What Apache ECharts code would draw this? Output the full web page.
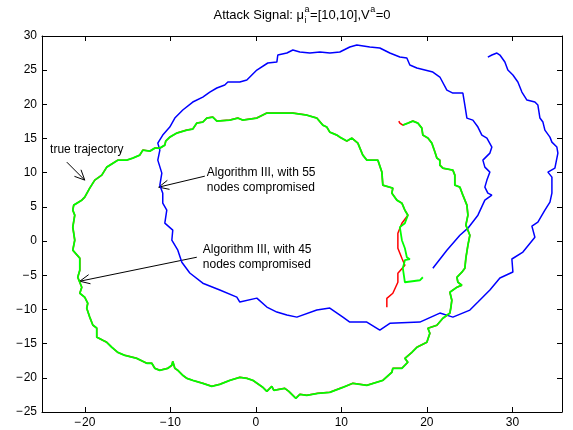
<!DOCTYPE html>
<html><head><meta charset="utf-8">
<script src="https://cdn.jsdelivr.net/npm/echarts@6/dist/echarts.min.js"></script>
<style>html,body{margin:0;padding:0;background:#fff}#c{width:573px;height:430px}</style>
</head><body><div id="c"></div>
<script>
// ---- axis settings ----
const xRange = [-25, 35.8];
const yRange = [-25, 30];
const xTickValues = [-20, -10, 0, 10, 20, 30];
const yTickInterval = 5;

// ---- data (x, y) ----
// true trajectory: inner starting piece (differs from estimate)
const trueStart = [[15.32,-9.68],[15.32,-8.37],[16.02,-7.63],[16.61,-6.02],[16.61,-4.70],[17.43,-3.53],[17.08,-2.50],[16.61,-1.04],[16.61,1.16],[17.08,2.62]];
// Algorithm III, 45 nodes compromised: inner starting piece
const alg45Start = [[19.53,-5.29],[19.18,-5.73],[17.43,-6.02],[17.19,-3.97],[17.43,-2.80],[18.01,-2.65],[17.66,-2.36],[17.43,-1.04],[17.08,0.13],[16.84,2.04],[17.43,2.62]];
// loop that the true trajectory and the 45-node estimate share
const sharedLoop = [[17.78,3.79],[17.43,4.52],[17.08,5.55],[16.49,5.99],[15.91,7.01],[16.02,7.75],[14.85,8.18],[14.74,10.09],[14.27,11.84],[12.98,11.84],[12.51,12.58],[11.93,14.33],[11.23,15.07],[10.64,14.63],[9.82,15.21],[9.47,15.51],[8.65,15.94],[8.30,16.68],[7.83,16.97],[7.13,18.00],[5.96,18.43],[4.33,18.73],[3.63,18.73],[1.99,18.73],[1.29,18.73],[0.12,18.00],[-1.52,17.70],[-2.11,18.00],[-3.04,17.70],[-4.56,17.56],[-5.03,18.14],[-5.73,18.00],[-6.20,17.41],[-6.90,17.26],[-7.37,16.38],[-8.07,16.24],[-9.24,15.80],[-10.06,15.21],[-10.53,14.63],[-10.64,14.04],[-11.22,13.60],[-11.81,13.60],[-12.39,13.16],[-13.21,13.31],[-13.57,12.58],[-14.39,12.14],[-15.09,11.84],[-16.14,11.84],[-17.43,10.82],[-18.01,9.65],[-18.83,8.92],[-19.42,7.75],[-20.00,6.43],[-20.35,5.99],[-21.29,5.26],[-21.40,4.52],[-21.17,3.79],[-21.40,2.04],[-21.17,0.13],[-21.40,-1.33],[-20.58,-2.50],[-20.58,-4.26],[-20.82,-5.29],[-20.35,-6.75],[-20.58,-7.63],[-20.00,-8.22],[-19.65,-9.09],[-19.77,-9.82],[-19.42,-11.12],[-19.06,-12.28],[-18.60,-12.72],[-18.60,-14.05],[-17.89,-14.51],[-17.43,-14.80],[-16.84,-15.53],[-16.14,-16.27],[-15.32,-16.71],[-13.92,-17.15],[-12.75,-17.87],[-12.16,-17.87],[-11.81,-18.61],[-11.23,-18.90],[-10.29,-18.61],[-9.82,-18.17],[-9.71,-17.59],[-9.47,-18.61],[-9.12,-18.90],[-8.54,-19.63],[-8.07,-20.07],[-7.37,-20.37],[-6.20,-20.80],[-5.15,-21.24],[-4.21,-20.95],[-3.04,-20.37],[-1.87,-19.93],[-1.05,-20.07],[-0.35,-20.37],[0.82,-21.39],[1.29,-21.98],[1.87,-21.24],[2.11,-21.83],[3.39,-21.54],[3.86,-21.98],[4.68,-23.00],[5.15,-22.41],[5.96,-22.56],[7.25,-22.27],[8.65,-22.12],[10.18,-21.39],[11.35,-20.80],[12.98,-21.10],[14.85,-20.37],[15.91,-19.19],[16.02,-18.61],[17.08,-18.61],[17.78,-17.72],[17.43,-17.15],[18.25,-16.27],[18.83,-15.53],[20.00,-14.80],[20.35,-13.48],[20.12,-12.75],[21.17,-12.31],[21.87,-11.29],[22.69,-10.53],[22.81,-9.68],[22.92,-8.65],[22.69,-7.48],[23.51,-6.75],[24.09,-6.45],[23.63,-6.02],[23.51,-5.29],[24.09,-4.55],[24.44,-3.97],[24.56,-2.50],[24.80,-0.60],[25.03,0.86],[24.56,2.33],[24.80,3.79],[24.68,5.26],[24.21,6.72],[23.86,7.89],[23.27,8.18],[23.27,9.65],[23.04,10.38],[21.87,10.67],[21.52,11.11],[21.52,11.84],[21.17,12.14],[20.94,13.02],[20.58,14.33],[20.12,15.07],[19.53,15.51],[19.41,16.53],[18.95,17.26],[18.36,17.56],[17.78,17.26],[17.19,16.97]];
const trueEnd = [[16.84,17.26],[16.72,17.56]];
// Algorithm III, 55 nodes compromised
const alg55 = [[20.70,-3.97],[22.34,-1.33],[23.86,0.86],[24.80,1.89],[25.97,3.79],[26.78,5.99],[27.60,6.72],[27.13,7.01],[26.78,7.89],[27.02,8.92],[27.37,10.09],[26.78,10.82],[26.55,11.84],[27.37,12.87],[27.60,13.75],[27.02,15.07],[26.43,15.50],[25.97,16.68],[25.38,17.70],[24.68,17.99],[24.44,19.90],[24.21,21.65],[23.04,21.65],[22.34,22.09],[21.52,24.00],[20.70,24.73],[18.83,25.31],[18.01,25.75],[17.66,26.78],[16.84,26.92],[15.67,27.51],[14.50,28.24],[13.33,28.39],[11.81,28.68],[10.99,28.39],[9.82,27.66],[8.66,27.51],[7.49,27.66],[6.32,27.51],[5.15,27.66],[4.33,27.95],[3.63,27.51],[2.57,27.22],[2.46,26.19],[1.40,26.05],[0.12,25.02],[-0.70,24.00],[-1.05,23.56],[-1.87,23.27],[-3.27,23.27],[-3.63,22.83],[-4.56,22.39],[-5.38,21.80],[-6.20,21.07],[-7.37,20.34],[-8.54,19.17],[-9.47,18.00],[-10.06,16.68],[-10.88,15.51],[-11.46,14.33],[-11.22,13.31],[-11.46,11.84],[-10.99,9.94],[-11.22,8.18],[-10.88,7.01],[-10.88,5.55],[-10.41,4.52],[-10.64,2.62],[-9.71,1.60],[-9.82,0.13],[-9.12,-1.33],[-8.65,-3.09],[-7.72,-4.67],[-6.20,-6.16],[-4.21,-7.16],[-2.22,-8.19],[-1.87,-8.92],[0.12,-8.34],[1.29,-9.65],[2.46,-10.38],[3.63,-10.82],[4.80,-11.12],[7.13,-10.09],[8.65,-9.80],[10.18,-11.12],[10.99,-11.85],[12.98,-11.85],[14.50,-13.02],[15.67,-12.02],[19.18,-11.85],[21.52,-10.53],[23.04,-11.12],[25.03,-10.09],[25.97,-8.92],[27.37,-7.16],[28.54,-5.40],[30.06,-4.52],[29.94,-2.62],[31.23,-1.60],[32.63,0.57],[32.28,2.19],[32.98,2.77],[33.80,4.52],[34.39,5.70],[34.62,7.01],[34.62,9.36],[34.15,10.09],[34.97,10.67],[35.32,12.87],[35.20,13.75],[34.62,14.48],[34.39,15.21],[33.80,16.24],[33.57,17.41],[33.22,18.00],[32.98,19.90],[32.63,20.34],[31.70,20.63],[31.11,21.80],[30.64,23.27],[30.06,24.29],[29.47,25.02],[29.12,26.19],[28.54,27.22],[28.19,27.51],[27.60,27.22],[27.13,26.92]];

// ---- annotations (data units) ----
const annotations = [
  {text: 'true trajectory', at: [-19.77, 13.31], align: 'center', from: [-22.1, 11.55], to: [-20.0, 8.92]},
  {text: 'Algorithm III, with 55\nnodes compromised', at: [-5.73, 8.92], align: 'left', from: [-5.96, 9.50], to: [-11.35, 7.89]},
  {text: 'Algorithm III, with 45\nnodes compromised', at: [-6.20, -2.36], align: 'left', from: [-6.90, -2.36], to: [-20.58, -5.87]}
];

const FONT = '"Liberation Sans", Arial, Helvetica, sans-serif';
const fmt = v => String(v).replace('-', '\u2212\u200a');
const chart = echarts.init(document.getElementById('c'), null, {renderer: 'canvas'});

const lineAxis = {show: true, onZero: false, lineStyle: {color: '#000', width: 1}};
function xAx(pos, labels) {
  return {type: 'value', min: xRange[0], max: xRange[1], position: pos,
    axisLine: lineAxis,
    axisTick: {show: true, inside: true, length: 5, customValues: xTickValues, lineStyle: {color: '#000', width: 1}},
    axisLabel: {show: labels, customValues: xTickValues, formatter: fmt, color: '#000', fontSize: 12, fontFamily: FONT, margin: 5},
    splitLine: {show: false}};
}
function yAx(pos, labels) {
  return {type: 'value', min: yRange[0], max: yRange[1], interval: yTickInterval, position: pos,
    axisLine: lineAxis,
    axisTick: {show: true, inside: true, length: 5, lineStyle: {color: '#000', width: 1}},
    axisLabel: {show: labels, formatter: fmt, color: '#000', fontSize: 12, fontFamily: FONT, margin: 5},
    splitLine: {show: false}};
}
function lineSeries(name, data, color, width) {
  return {name, type: 'line', data, showSymbol: false, symbol: 'none', smooth: false,
    lineStyle: {color, width}, itemStyle: {color}, emphasis: {disabled: true}, silent: true};
}

chart.setOption({
  animation: false,
  backgroundColor: '#fff',
  grid: {left: 42, right: 11, top: 36, bottom: 18, containLabel: false, outerBoundsMode: 'none'},
  xAxis: [xAx('bottom', true), xAx('top', false)],
  yAxis: [yAx('left', true), yAx('right', false)],
  series: [
    lineSeries('Algorithm III, with 55 nodes compromised', alg55, '#0000ff', 1.5),
    lineSeries('true trajectory', trueStart.concat(sharedLoop, trueEnd), '#ff0000', 1.5),
    lineSeries('Algorithm III, with 45 nodes compromised', alg45Start.concat(sharedLoop), '#00ff00', 1.8)
  ]
});

// ---- overlay text: title and annotations ----
const ctx = document.createElement('canvas').getContext('2d');
function tw(s, size) { ctx.font = size + 'px ' + FONT; return ctx.measureText(s).width; }
function txt(s, x, y, size, align, va) {
  return {type: 'text', x, y, silent: true,
    style: {text: s, fontSize: size, fontFamily: FONT, fill: '#000', align: align, verticalAlign: va, textAlign: align, textVerticalAlign: va, lineHeight: 15}};
}
const P = p => chart.convertToPixel({gridIndex: 0}, p);
const g = [];
// title
const TS = 13, SS = 9;
const cx = P([(xRange[0] + xRange[1]) / 2, 0])[0];
const parts = ['Attack Signal: \u03bc', '=[10,10],V', '=0'];
const w1 = tw(parts[0], TS), wsc = Math.max(tw('a', SS), tw('i', SS)), w2 = tw(parts[1], TS), wa = tw('a', SS), w3 = tw(parts[2], TS);
let x0 = cx - (w1 + wsc + 1 + w2 + wa + 1 + w3) / 2;
const ty = 15;
g.push(txt(parts[0], x0, ty, TS, 'left', 'middle')); x0 += w1;
g.push(txt('a', x0 + 0.5, ty - 5, SS, 'left', 'middle'));
g.push(txt('i', x0 + 0.5, ty + 6, SS, 'left', 'middle')); x0 += wsc + 1;
g.push(txt(parts[1], x0, ty, TS, 'left', 'middle')); x0 += w2;
g.push(txt('a', x0 + 0.5, ty - 5, SS, 'left', 'middle')); x0 += wa + 1;
g.push(txt(parts[2], x0, ty, TS, 'left', 'middle'));
// annotations
annotations.forEach(a => {
  const p = P(a.at);
  g.push(txt(a.text, p[0], p[1], 12, a.align, 'middle'));
  const p0 = P(a.from), p1 = P(a.to);
  const dx = p1[0] - p0[0], dy = p1[1] - p0[1], L = Math.hypot(dx, dy);
  const bx = -dx / L, by = -dy / L, an = 25 * Math.PI / 180, len = 11;
  const c = Math.cos(an), s = Math.sin(an);
  const l = [p1[0] + len * (bx * c - by * s), p1[1] + len * (bx * s + by * c)];
  const r = [p1[0] + len * (bx * c + by * s), p1[1] + len * (-bx * s + by * c)];
  g.push({type: 'line', silent: true, shape: {x1: p0[0], y1: p0[1], x2: p1[0], y2: p1[1]}, style: {stroke: '#000', lineWidth: 1}});
  g.push({type: 'polyline', silent: true, shape: {points: [l, p1, r]}, style: {stroke: '#000', fill: null, lineWidth: 1}});
});
chart.setOption({graphic: {elements: g}});
</script>
</body></html>
